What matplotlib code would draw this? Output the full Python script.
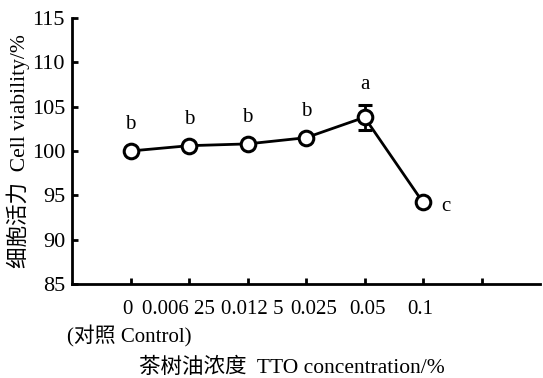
import matplotlib
matplotlib.use('Agg')
from matplotlib import pyplot as plt
import numpy as np

plt.rcParams['font.family'] = ['Liberation Serif', 'Noto Sans CJK SC']

# data
concentration_labels = ['0', '0.006 25', '0.012 5', '0.025', '0.05', '0.1']
viability = [100.0, 100.6, 100.8, 101.5, 103.8, 94.2]
errors = [0.0, 0.0, 0.0, 0.0, 1.4, 0.0]
letters = ['b', 'b', 'b', 'b', 'a', 'c']

# label centres, shifted slightly from the ticks as in the original
label_pos = [0.95, 1.82, 3.08, 4.13, 5.05, 5.95]

fig = plt.figure(figsize=(5.43, 3.78), dpi=100)
ax = fig.add_axes([72 / 543, 94 / 378, 468 / 543, 266 / 378])

x = np.arange(1, len(viability) + 1)
ax.errorbar(x, viability, yerr=errors, fmt='-o', color='black', lw=2,
            ms=10.5, mfc='white', mec='black', mew=2.2,
            ecolor='black', elinewidth=2, capsize=5, capthick=2)

for xi, v, e, l in zip(x, viability, errors, letters):
    if l == 'c':
        ax.annotate(l, (xi, v), xytext=(13, -3), textcoords='offset points',
                    ha='left', va='center', fontsize=15)
    elif l == 'a':
        ax.annotate(l, (xi, v + e), xytext=(0, 8), textcoords='offset points',
                    ha='center', va='bottom', fontsize=15)
    else:
        ax.annotate(l, (xi, v), xytext=(0, 12), textcoords='offset points',
                    ha='center', va='bottom', fontsize=15)

ax.set_xlim(0, 8)
ax.set_ylim(85, 115)
ax.set_yticks(np.arange(85, 116, 5))
ax.set_xticks(np.arange(1, 8))
ax.set_xticklabels([])

for s in ['top', 'right']:
    ax.spines[s].set_visible(False)
for s in ['left', 'bottom']:
    ax.spines[s].set_linewidth(2)

ax.tick_params(axis='both', direction='in', length=4, width=2, labelsize=16)
ax.tick_params(axis='y', pad=5)

for p, lab in zip(label_pos, concentration_labels):
    ax.text(p, -0.06, lab, transform=ax.get_xaxis_transform(),
            ha='center', va='top', fontsize=15)

fig.text(67 / 543, 1 - 336 / 378, '(对照 Control)', ha='left', va='center', fontsize=15)
fig.text(292 / 543, 1 - 368 / 378, '茶树油浓度  TTO concentration/%',
         ha='center', va='center', fontsize=15.5)

ax.set_ylabel('细胞活力  Cell viability/%', fontsize=15.5, labelpad=1)

fig.savefig('out.png', dpi=100)
